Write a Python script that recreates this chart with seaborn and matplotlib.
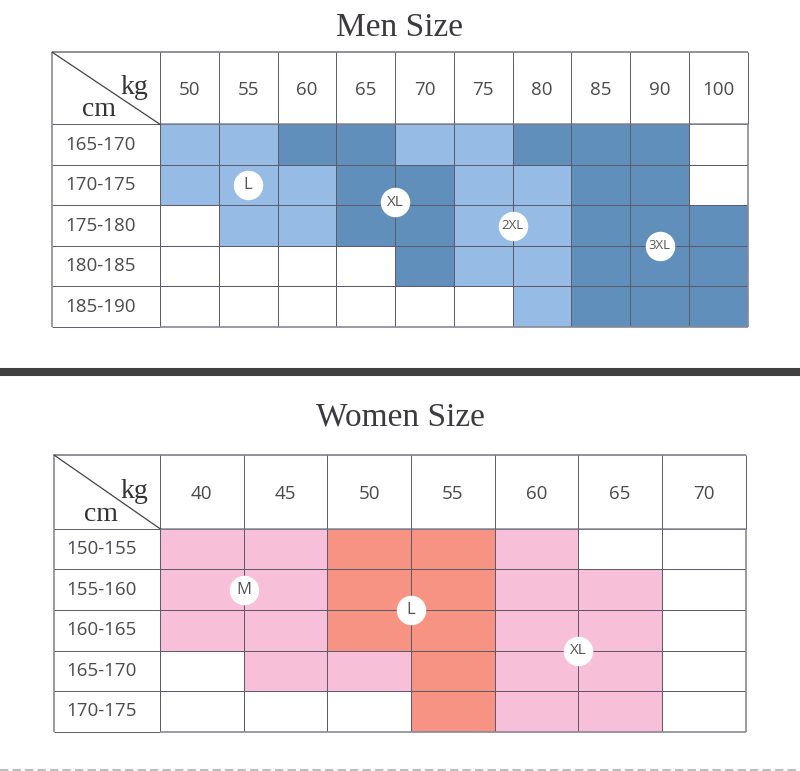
import numpy as np
import matplotlib
matplotlib.use("Agg")
import matplotlib.pyplot as plt
from matplotlib.colors import ListedColormap
import seaborn as sns

# ---- data ----
men_kg = ["50", "55", "60", "65", "70", "75", "80", "85", "90", "100"]
men_cm = ["165-170", "170-175", "175-180", "180-185", "185-190"]
# 0 = no size, 1 = L / 2XL (light), 2 = XL / 3XL (dark)
men_cells = [
    [1, 1, 2, 2, 1, 1, 2, 2, 2, 0],
    [1, 1, 1, 2, 2, 1, 1, 2, 2, 0],
    [0, 1, 1, 2, 2, 1, 1, 2, 2, 2],
    [0, 0, 0, 0, 2, 1, 1, 2, 2, 2],
    [0, 0, 0, 0, 0, 0, 1, 2, 2, 2],
]
men_sizes = ["L", "XL", "2XL", "3XL"]
men_size_x = [1.5, 4.0, 6.0, 8.5]
men_size_y = [1.5, 1.92, 2.5, 3.0]

women_kg = ["40", "45", "50", "55", "60", "65", "70"]
women_cm = ["150-155", "155-160", "160-165", "165-170", "170-175"]
# 0 = no size, 1 = M / XL (pink), 2 = L (salmon)
women_cells = [
    [1, 1, 2, 2, 1, 0, 0],
    [1, 1, 2, 2, 1, 1, 0],
    [1, 1, 2, 2, 1, 1, 0],
    [0, 1, 1, 2, 1, 1, 0],
    [0, 0, 0, 2, 1, 1, 0],
]
women_sizes = ["M", "L", "XL"]
women_size_x = [1.0, 3.0, 5.0]
women_size_y = [1.5, 2.0, 3.0]

W, H = 800, 771
grid_col = "#5e5a6a"
text_col = "#4a4a4a"
sans = ["Open Sans", "DejaVu Sans"]
serif = ["Liberation Serif", "DejaVu Serif"]


def draw_table(fig, box, cells, kg, cm, colors, sizes, sx, sy, size_fs):
    # box = (table left, table top, first col right, header bottom, right, bottom) in px
    left, top, fc_right, hdr_bottom, right, bottom = box
    ax = fig.add_axes([fc_right / W, 1 - bottom / H,
                       (right - fc_right) / W, (bottom - hdr_bottom) / H])
    data = np.array(cells)
    nrows, ncols = data.shape
    sns.heatmap(data, ax=ax, cmap=ListedColormap(colors), vmin=-0.5, vmax=2.5,
                cbar=False, linewidths=0.6, linecolor=grid_col, square=False)
    ax.set_xticks([])
    ax.set_yticks([])
    ax.set_xlim(0, ncols)
    ax.set_ylim(nrows, 0)
    for s in ax.spines.values():
        s.set_visible(False)

    cw = (right - fc_right) / ncols
    rh = (bottom - hdr_bottom) / nrows
    hdr = (hdr_bottom - top) / rh      # header height in row units
    fcw = (fc_right - left) / cw       # first column width in col units

    # header and first column grid
    ax.hlines(-hdr, -fcw, ncols, color="#8a8794", lw=1.3, clip_on=False)
    ax.hlines(np.arange(0, nrows + 1), -fcw, 0, color=grid_col, lw=0.7, clip_on=False)
    ax.hlines(0, 0, ncols, color="#8a8794", lw=1.1, clip_on=False)
    ax.vlines(np.arange(0, ncols + 1), -hdr, 0, color=grid_col, lw=0.7, clip_on=False)
    ax.vlines(-fcw, -hdr, nrows, color="#8a8794", lw=1.2, clip_on=False)
    ax.vlines(ncols, 0, nrows, color="#8a8794", lw=1.2, clip_on=False)
    ax.hlines(nrows, 0, ncols, color="#8a8794", lw=1.2, clip_on=False)
    ax.plot([-fcw, 0], [-hdr, 0], color="#444444", lw=0.9, clip_on=False)

    for i, lab in enumerate(kg):
        ax.text(i + 0.5, -hdr / 2 + 0.05, lab, ha="center", va="center", fontsize=13.5,
                color=text_col, family=sans, clip_on=False)
    for j, lab in enumerate(cm):
        ax.text(-fcw * 0.55, j + 0.5, lab, ha="center", va="center", fontsize=13.5,
                color=text_col, family=sans, clip_on=False)
    ax.text(-fcw * 0.11, -hdr * 0.42, "kg", ha="right", va="baseline", fontsize=20,
            color="#333333", family=serif, clip_on=False)
    ax.text(-fcw * 0.72, -hdr * 0.11, "cm", ha="left", va="baseline", fontsize=20,
            color="#333333", family=serif, clip_on=False)

    ax.scatter(sx, sy, s=450, color="white", zorder=5, clip_on=False, linewidths=0)
    for lab, x, y, fs in zip(sizes, sx, sy, size_fs):
        ax.text(x, y, lab, ha="center", va="center", fontsize=fs, color="#555555",
                family=sans, zorder=6)
    return ax


fig = plt.figure(figsize=(W / 100, H / 100), dpi=100)
fig.patch.set_facecolor("white")

fig.text(0.5, 1 - 36 / H, "Men Size", ha="center", va="baseline", fontsize=24,
         color="#3d3a3f", family=serif)
draw_table(fig, (52.3, 52.3, 160, 124.3, 747.7, 326.8), men_cells, men_kg, men_cm,
           ["white", "#96bbe4", "#5f8fba"], men_sizes, men_size_x, men_size_y,
           [12, 11, 9.5, 9.5])

# separator bar
fig.add_artist(plt.Line2D([0, 799 / W], [1 - 372 / H] * 2, color="#404040", lw=5.8))

fig.text(0.5, 1 - 426 / H, "Women Size", ha="center", va="baseline", fontsize=24,
         color="#3d3a3f", family=serif)
draw_table(fig, (54, 455, 160, 528.7, 745.5, 731.7), women_cells, women_kg, women_cm,
           ["white", "#f8bfd9", "#f79383"], women_sizes, women_size_x, women_size_y,
           [12, 12, 11])

# dashed bottom line
fig.add_artist(plt.Line2D([0, 1], [1 - 769.5 / H] * 2, color="#b0b0b0", lw=1.2,
                          ls=(0, (5, 2.5))))

fig.savefig("out.png", dpi=100, facecolor="white")
